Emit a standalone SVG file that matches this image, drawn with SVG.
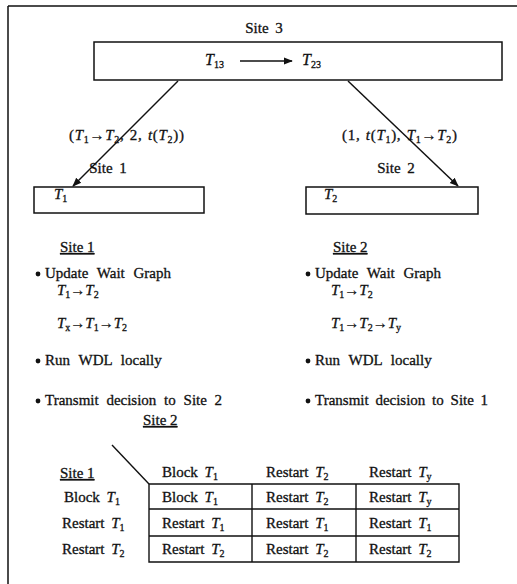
<svg xmlns="http://www.w3.org/2000/svg" width="517" height="584" viewBox="0 0 517 584">
<defs>
<style>
text{font-family:"Liberation Serif","Times New Roman",serif;font-size:15px;fill:#111;stroke:#111;stroke-width:0.3;word-spacing:3px}
.i{font-style:italic}
.s{font-size:10px;font-style:normal}
.box{fill:#fff;stroke:#111;stroke-width:1.5}
.ln{stroke:#111;stroke-width:1.5;fill:none}
.tb{stroke:#111;stroke-width:1.4;fill:none}
.u{text-decoration:underline}
.lbl{letter-spacing:0.7px;word-spacing:1px}
.big{font-size:16px}
.bu{fill:#111}
</style>
<marker id="ah" viewBox="0 0 10 10" refX="9" refY="5" markerWidth="9" markerHeight="9" markerUnits="userSpaceOnUse" orient="auto">
<path d="M0,1 L10,5 L0,9 Z" fill="#111"/>
</marker>
</defs>
<rect width="517" height="584" fill="#fff"/>
<path class="ln" d="M8,6 H517 M8,6 V584"/>

<g id="site3">
<text x="264" y="33" text-anchor="middle">Site 3</text>
<rect class="box" x="94" y="42" width="408" height="38"/>
<text x="205" y="65" class="big"><tspan class="i">T</tspan><tspan class="s" dy="3">13</tspan></text>
<line class="ln" x1="240" y1="61" x2="292" y2="61" stroke-width="1.2" marker-end="url(#ah)"/>
<text x="302" y="65" class="big"><tspan class="i">T</tspan><tspan class="s" dy="3">23</tspan></text>
</g>

<g id="site1">
<text x="108" y="173" text-anchor="middle">Site 1</text>
<rect class="box" x="34" y="187" width="170" height="26"/>
<text x="54" y="199"><tspan class="i">T</tspan><tspan class="s" dy="3">1</tspan></text>
</g>

<g id="site2">
<text x="396" y="173" text-anchor="middle">Site 2</text>
<rect class="box" x="306" y="187" width="172" height="27"/>
<text x="324" y="199"><tspan class="i">T</tspan><tspan class="s" dy="3">2</tspan></text>
</g>

<g id="connectors">
<line class="ln" x1="178" y1="81" x2="73" y2="186" marker-end="url(#ah)"/>
<line class="ln" x1="348" y1="81" x2="458" y2="186" marker-end="url(#ah)"/>
<text x="69" y="140" class="lbl">(<tspan class="i">T</tspan><tspan class="s" dy="3">1</tspan><tspan dy="-3">→</tspan><tspan class="i">T</tspan><tspan class="s" dy="3">2</tspan><tspan dy="-3">, 2, </tspan><tspan class="i">t</tspan>(<tspan class="i">T</tspan><tspan class="s" dy="3">2</tspan><tspan dy="-3">))</tspan></text>
<text x="342" y="140" class="lbl">(1, <tspan class="i">t</tspan>(<tspan class="i">T</tspan><tspan class="s" dy="3">1</tspan><tspan dy="-3">), </tspan><tspan class="i">T</tspan><tspan class="s" dy="3">1</tspan><tspan dy="-3">→</tspan><tspan class="i">T</tspan><tspan class="s" dy="3">2</tspan><tspan dy="-3">)</tspan></text>
</g>

<g id="site1-steps">
<text x="60" y="252" class="u" style="word-spacing:0">Site 1</text>
<circle class="bu" cx="38" cy="274" r="2.4"/>
<text x="45" y="278" style="word-spacing:5px">Update Wait Graph</text>
<text x="57" y="295"><tspan class="i">T</tspan><tspan class="s" dy="3">1</tspan><tspan dy="-3">→</tspan><tspan class="i">T</tspan><tspan class="s" dy="3">2</tspan></text>
<text x="57" y="328"><tspan class="i">T</tspan><tspan class="s i" dy="3">x</tspan><tspan dy="-3">→</tspan><tspan class="i">T</tspan><tspan class="s" dy="3">1</tspan><tspan dy="-3">→</tspan><tspan class="i">T</tspan><tspan class="s" dy="3">2</tspan></text>
<circle class="bu" cx="38" cy="361" r="2.4"/>
<text x="45" y="365" style="word-spacing:5px">Run WDL locally</text>
<circle class="bu" cx="38" cy="401" r="2.4"/>
<text x="45" y="405" style="word-spacing:4px">Transmit decision to Site 2</text>
</g>

<g id="site2-steps">
<text x="333" y="252" class="u" style="word-spacing:0">Site 2</text>
<circle class="bu" cx="308" cy="274" r="2.4"/>
<text x="315" y="278" style="word-spacing:5px">Update Wait Graph</text>
<text x="331" y="295"><tspan class="i">T</tspan><tspan class="s" dy="3">1</tspan><tspan dy="-3">→</tspan><tspan class="i">T</tspan><tspan class="s" dy="3">2</tspan></text>
<text x="331" y="328"><tspan class="i">T</tspan><tspan class="s" dy="3">1</tspan><tspan dy="-3">→</tspan><tspan class="i">T</tspan><tspan class="s" dy="3">2</tspan><tspan dy="-3">→</tspan><tspan class="i">T</tspan><tspan class="s i" dy="3">y</tspan></text>
<circle class="bu" cx="308" cy="361" r="2.4"/>
<text x="315" y="365" style="word-spacing:5px">Run WDL locally</text>
<circle class="bu" cx="308" cy="401" r="2.4"/>
<text x="315" y="405" style="word-spacing:3px">Transmit decision to Site 1</text>
</g>

<g id="decision-table">
<line class="tb" x1="112" y1="445" x2="149" y2="484" stroke-width="1"/>
<text x="143" y="425" class="u" style="word-spacing:0">Site 2</text>
<text x="60" y="478" class="u" style="word-spacing:0">Site 1</text>
<text x="162" y="477">Block <tspan class="i">T</tspan><tspan class="s" dy="3">1</tspan></text>
<text x="266" y="477">Restart <tspan class="i">T</tspan><tspan class="s" dy="3">2</tspan></text>
<text x="369" y="477">Restart <tspan class="i">T</tspan><tspan class="s i" dy="3">y</tspan></text>
<text x="64" y="502">Block <tspan class="i">T</tspan><tspan class="s" dy="3">1</tspan></text>
<text x="62" y="528">Restart <tspan class="i">T</tspan><tspan class="s" dy="3">1</tspan></text>
<text x="62" y="554">Restart <tspan class="i">T</tspan><tspan class="s" dy="3">2</tspan></text>
<path class="tb" d="M149,484 H459 V562 H149 Z M149,509 H459 M149,536 H459 M252,484 V562 M356,484 V562"/>
<text x="162" y="502">Block <tspan class="i">T</tspan><tspan class="s" dy="3">1</tspan></text>
<text x="266" y="502">Restart <tspan class="i">T</tspan><tspan class="s" dy="3">2</tspan></text>
<text x="369" y="502">Restart <tspan class="i">T</tspan><tspan class="s i" dy="3">y</tspan></text>
<text x="162" y="528">Restart <tspan class="i">T</tspan><tspan class="s" dy="3">1</tspan></text>
<text x="266" y="528">Restart <tspan class="i">T</tspan><tspan class="s" dy="3">1</tspan></text>
<text x="369" y="528">Restart <tspan class="i">T</tspan><tspan class="s" dy="3">1</tspan></text>
<text x="162" y="554">Restart <tspan class="i">T</tspan><tspan class="s" dy="3">2</tspan></text>
<text x="266" y="554">Restart <tspan class="i">T</tspan><tspan class="s" dy="3">2</tspan></text>
<text x="369" y="554">Restart <tspan class="i">T</tspan><tspan class="s" dy="3">2</tspan></text>
</g>
</svg>
